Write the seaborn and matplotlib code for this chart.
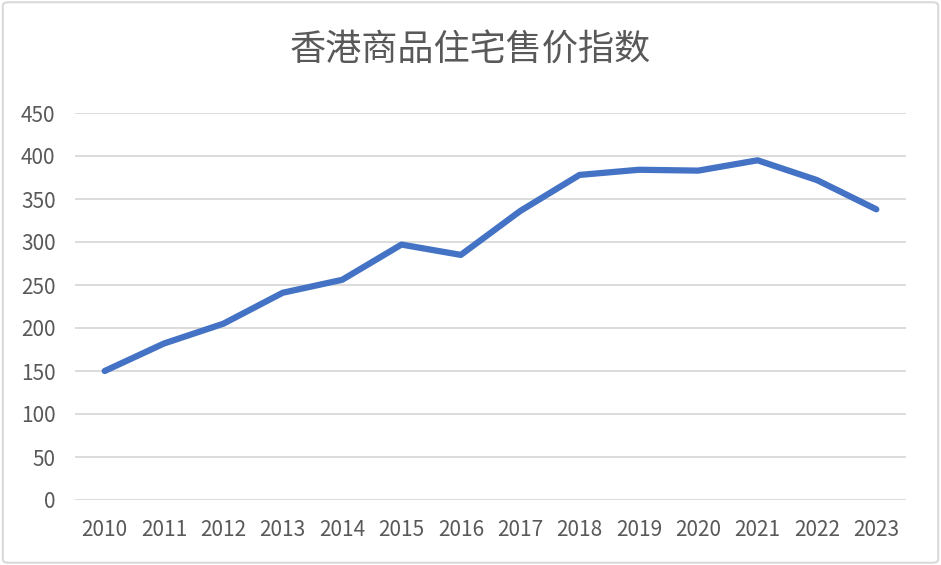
import matplotlib
matplotlib.use("Agg")
import matplotlib.pyplot as plt
import seaborn as sns
import pandas as pd
from matplotlib.patches import FancyBboxPatch

years = ["2010", "2011", "2012", "2013", "2014", "2015", "2016",
         "2017", "2018", "2019", "2020", "2021", "2022", "2023"]
index_values = [150, 182, 205, 241, 256, 297, 285, 336, 378, 384, 383, 395, 372, 338]
y_ticks = [0, 50, 100, 150, 200, 250, 300, 350, 400, 450]
title = "香港商品住宅售价指数"

sns.set_theme(style="white")
plt.rcParams['font.family'] = ['Noto Sans CJK SC', 'DejaVu Sans']

df = pd.DataFrame({"year": years, "value": index_values})

fig = plt.figure(figsize=(9.41, 5.65), dpi=100)
ax = fig.add_axes([75/941, 1-500/565, (906-75)/941, (500-113)/565])

sns.lineplot(data=df, x="year", y="value", ax=ax, color="#4472C4",
             linewidth=4.5, sort=False, solid_capstyle="round", solid_joinstyle="round")

ax.set_xlim(-0.5, len(years) - 0.5)
ax.set_ylim(0, 450)
ax.set_yticks(y_ticks)
ax.grid(axis="y", color="#d9d9d9", linewidth=1.3)
ax.set_axisbelow(True)
for s in ax.spines.values():
    s.set_visible(False)
ax.set_xlabel("")
ax.set_ylabel("")
ax.tick_params(axis="both", length=0, labelsize=15, colors="#595959")
ax.tick_params(axis="y", pad=14)
ax.tick_params(axis="x", pad=14)

fig.text(0.5, 1-51/565, title, ha="center", va="center", fontsize=26, color="#595959")

border = FancyBboxPatch((0.003, 0.004), 0.994, 0.992, boxstyle="round,pad=0,rounding_size=0.006",
                        transform=fig.transFigure, fill=False, edgecolor="#d9d9d9", linewidth=1.5)
fig.patches.append(border)

fig.savefig("out.png", dpi=100)
